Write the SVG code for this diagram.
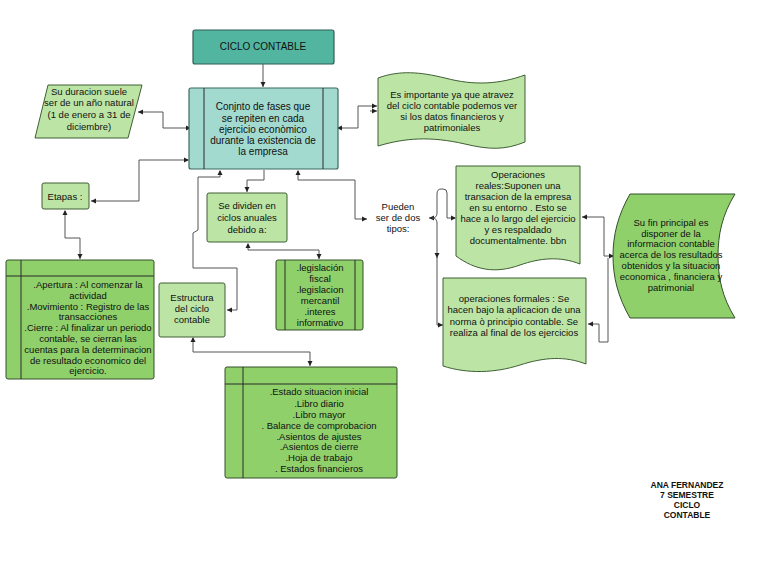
<svg xmlns="http://www.w3.org/2000/svg" width="768" height="565" viewBox="0 0 768 565">
<defs>
<style>
text{font-family:"Liberation Sans",Arial,sans-serif;font-size:9.5px;fill:#111;text-anchor:middle}
.t11{font-size:10px}
.t10{font-size:10px}
.b{font-weight:bold;font-size:8.5px}
.teal{fill:#52b5a0;stroke:#2f5f55;stroke-width:1.2}
.lteal{fill:#a2dad0;stroke:#3c6860;stroke-width:1.2}
.lg{fill:#bce5a5;stroke:#3f5f34;stroke-width:1}
.mg{fill:#8fd06b;stroke:#34502a;stroke-width:1}
.ln{stroke:#2a2a2a;stroke-width:1;fill:none}
.c{fill:none;stroke:#555;stroke-width:1}
</style>
<marker id="ah" markerWidth="6" markerHeight="6" refX="5" refY="3" orient="auto" markerUnits="userSpaceOnUse">
<path d="M0,0.5 L5,3 L0,5.5 Z" fill="#222"/>
</marker>
<marker id="as" markerWidth="6" markerHeight="6" refX="1" refY="3" orient="auto" markerUnits="userSpaceOnUse">
<path d="M5,0.5 L0,3 L5,5.5 Z" fill="#222"/>
</marker>
</defs>
<rect width="768" height="565" fill="#fff"/>

<g id="connectors">
<path class="c" d="M263,64 V87" marker-end="url(#ah)"/>
<path class="c" d="M190,128 H163 V112 H138" marker-start="url(#as)" marker-end="url(#ah)"/>
<path class="c" d="M188,160 H139 V201 H91" marker-start="url(#as)" marker-end="url(#ah)"/>
<path class="c" d="M65,211 V238 H80 V259" marker-start="url(#as)" marker-end="url(#ah)"/>
<path class="c" d="M338,128 H358 V106 H377" marker-start="url(#as)" marker-end="url(#ah)"/>
<path class="c" d="M370,111 H377" marker-end="url(#ah)"/>
<path class="c" d="M264,170 V180 H247 V192" marker-end="url(#ah)"/>
<path class="c" d="M220,171 V177 H198 V230 L193,233 V268 H237 V310 H227" marker-start="url(#as)" marker-end="url(#ah)"/>
<path class="c" d="M298,171 V180 H355 V219 H367" marker-start="url(#as)" marker-end="url(#ah)"/>
<path class="c" d="M248,244 V250 H319 V259" marker-start="url(#as)" marker-end="url(#ah)"/>
<path class="c" d="M193,338 V352 H310 V366" marker-start="url(#as)" marker-end="url(#ah)"/>
<path class="c" d="M455,218 H447 V193 Q447,189 443,189 H441 Q437,189 437,194 V213 Q437,218 432,218 H429" marker-start="url(#as)" marker-end="url(#ah)"/>
<path class="c" d="M432,218 Q437,218 437,223 V258" marker-end="url(#ah)"/>
<path class="c" d="M437,256 V325 H443" marker-end="url(#ah)"/>
<path class="c" d="M613,256 H604 V217 H582" marker-start="url(#as)" marker-end="url(#ah)"/>
<path class="c" d="M608,258 V342 H599 V324 H588" marker-end="url(#ah)"/>
</g>

<g id="ciclo-contable">
<rect class="teal" x="193" y="30" width="141" height="34" rx="2"/>
<text class="t10" x="263" y="50">CICLO CONTABLE</text>
</g>

<g id="conjunto">
<rect class="lteal" x="189" y="88" width="149" height="81" rx="2"/>
<line class="ln" x1="204" y1="88" x2="204" y2="169"/>
<line class="ln" x1="323" y1="88" x2="323" y2="169"/>
<text class="t11" x="263" y="110">Conjnto  de fases que</text>
<text class="t11" x="263" y="122">se repiten en cada</text>
<text class="t11" x="263" y="133">ejercicio  econòmico</text>
<text class="t11" x="263" y="144">durante  la existencia de</text>
<text class="t11" x="263" y="155">la empresa</text>
</g>

<g id="duracion">
<path class="lg" d="M48,85 H142 L128,138 H35 Z"/>
<text x="89" y="95">Su duracion suele</text>
<text x="89" y="106">ser de un año natural</text>
<text x="89" y="118">(1 de enero a 31 de</text>
<text x="89" y="130">diciembre)</text>
</g>

<g id="importante">
<path class="lg" d="M378,78 C400,70 420,72 445,78 C475,86 500,84 525,75 V142 C505,150 490,150 465,144 C430,136 405,138 378,146 Z"/>
<text x="452" y="98">Es importante ya que atravez</text>
<text x="452" y="109">del ciclo contable podemos ver</text>
<text x="452" y="120">si los datos financieros y</text>
<text x="452" y="131">patrimoniales</text>
</g>

<g id="etapas">
<rect class="lg" x="42" y="183" width="47" height="26" rx="2"/>
<text x="65" y="200">Etapas :</text>
</g>

<g id="apertura">
<rect class="mg" x="6" y="260" width="148" height="119" rx="2"/>
<line class="ln" x1="6" y1="276" x2="154" y2="276"/>
<line class="ln" x1="21" y1="260" x2="21" y2="379"/>
<text x="88" y="288">.Apertura : Al comenzar la</text>
<text x="88" y="299">actividad</text>
<text x="88" y="310">.Movimiento  : Registro de las</text>
<text x="88" y="320">transacciones</text>
<text x="88" y="331">.Cierre : Al finalizar un periodo</text>
<text x="88" y="342">contable, se cierran las</text>
<text x="88" y="353">cuentas para la determinacion</text>
<text x="88" y="364">de resultado economico del</text>
<text x="88" y="374">ejercicio.</text>
</g>

<g id="se-dividen">
<rect class="lg" x="207" y="193" width="80" height="49" rx="2"/>
<text x="247" y="209">Se dividen en</text>
<text x="247" y="221">ciclos anuales</text>
<text x="247" y="233">debido a:</text>
</g>

<g id="legislacion">
<rect class="mg" x="276" y="260" width="87" height="70" rx="2"/>
<line class="ln" x1="285" y1="260" x2="285" y2="330"/>
<line class="ln" x1="355" y1="260" x2="355" y2="330"/>
<text x="320" y="271">.legislación</text>
<text x="320" y="282">fiscal</text>
<text x="320" y="293">.legislacion</text>
<text x="320" y="304">mercantil</text>
<text x="320" y="315">.interes</text>
<text x="320" y="326">informativo</text>
</g>

<g id="estructura">
<rect class="lg" x="159" y="283" width="66" height="54" rx="2"/>
<text x="192" y="301">Estructura</text>
<text x="192" y="312">del ciclo</text>
<text x="192" y="323">contable</text>
</g>

<g id="estado">
<rect class="mg" x="225" y="367" width="172" height="111" rx="2"/>
<line class="ln" x1="225" y1="384" x2="397" y2="384"/>
<line class="ln" x1="243" y1="367" x2="243" y2="478"/>
<text x="319" y="395">.Estado situacion inicial</text>
<text x="319" y="407">.Libro diario</text>
<text x="319" y="418">.Libro mayor</text>
<text x="319" y="429">. Balance de comprobacion</text>
<text x="319" y="440">.Asientos de ajustes</text>
<text x="319" y="450">.Asientos de cierre</text>
<text x="319" y="461">.Hoja de trabajo</text>
<text x="319" y="472">. Estados financieros</text>
</g>

<g id="pueden">
<text x="398" y="210">Pueden</text>
<text x="398" y="221">ser de dos</text>
<text x="398" y="232">tipos:</text>
</g>

<g id="reales">
<path class="lg" d="M456,166 H580 V264 C560,256 540,258 520,265 C495,274 475,270 456,256 Z"/>
<text x="518" y="178">Operaciones</text>
<text x="518" y="189">reales:Suponen una</text>
<text x="518" y="200">transacion de la empresa</text>
<text x="518" y="211">en su entorno . Esto se</text>
<text x="518" y="222">hace a lo largo del ejercicio</text>
<text x="518" y="233">y es respaldado</text>
<text x="518" y="244">documentalmente. bbn</text>
</g>

<g id="formales">
<path class="lg" d="M443,278 H586 V364 C565,356 545,357 520,365 C495,373 468,374 443,366 Z"/>
<text x="514" y="302">operaciones formales : Se</text>
<text x="514" y="313">hacen bajo la aplicacion de una</text>
<text x="514" y="325">norma ò principio contable. Se</text>
<text x="514" y="336">realiza al final de los ejercicios</text>
</g>

<g id="fin-principal">
<path class="mg" d="M630,194 H735 C722,215 718,235 718,256 C718,277 722,297 735,318 H630 C618,297 613,277 613,256 C613,235 618,215 630,194 Z"/>
<text x="671" y="226">Su fin principal es</text>
<text x="671" y="237">disponer  de la</text>
<text x="671" y="247">informacion contable</text>
<text x="671" y="258">acerca de los resultados</text>
<text x="671" y="269">obtenidos y la situacion</text>
<text x="671" y="280">economica , financiera y</text>
<text x="671" y="291">patrimonial</text>
</g>

<g id="autor">
<text class="b" x="687" y="488">ANA FERNANDEZ</text>
<text class="b" x="687" y="498">7 SEMESTRE</text>
<text class="b" x="687" y="508">CICLO</text>
<text class="b" x="687" y="518">CONTABLE</text>
</g>
</svg>
